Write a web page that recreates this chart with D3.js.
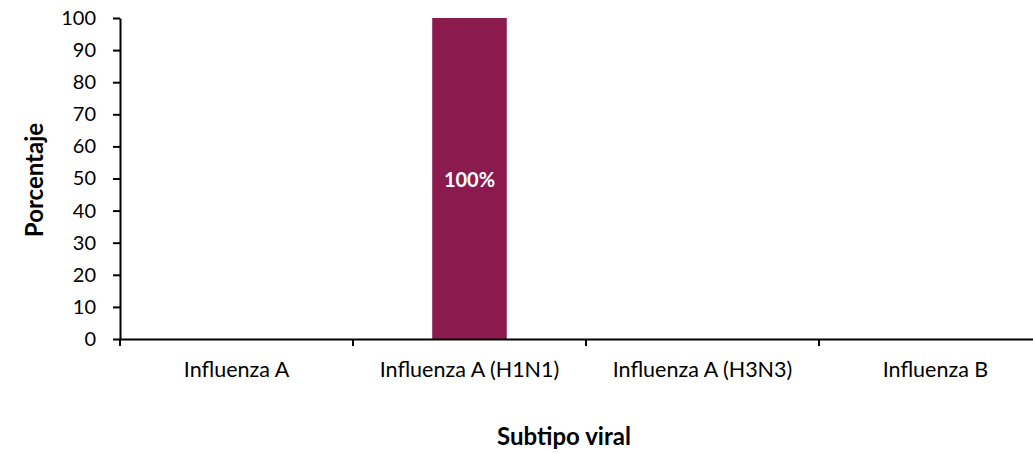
<!DOCTYPE html>
<html>
<head>
<meta charset="utf-8">
<script src="https://cdn.jsdelivr.net/npm/d3@7"></script>
<style>
  body { margin: 0; background: #fff; }
  svg { font-family: Lato, "Open Sans", sans-serif; }
</style>
</head>
<body>
<div id="chart"></div>
<script>
// data
const categories = ["Influenza A", "Influenza A (H1N1)", "Influenza A (H3N3)", "Influenza B"];
const values = [0, 100, 0, 0];
const yTicks = [0, 10, 20, 30, 40, 50, 60, 70, 80, 90, 100];

const width = 1033, height = 453;
const plotLeft = 120, plotTop = 18, zeroY = 339;
const plotRight = 1052; // axis runs past the picture edge

const svg = d3.select("#chart").append("svg")
  .attr("width", width)
  .attr("height", height);

// band for the category slots, and a narrower one for the bars
const xBand = d3.scaleBand()
  .domain(categories)
  .range([plotLeft, plotRight]);

const x = d3.scaleBand()
  .domain(categories)
  .range([plotLeft, plotRight])
  .paddingInner(0.68)
  .paddingOuter(0.34);

const y = d3.scaleLinear()
  .domain([0, 100])
  .range([zeroY, plotTop]);

const rows = categories.map((c, i) => ({ cat: c, val: values[i] }));

// bars
svg.selectAll("rect.bar")
  .data(rows)
  .join("rect")
  .attr("class", "bar")
  .attr("x", d => x(d.cat))
  .attr("width", x.bandwidth())
  .attr("y", d => y(d.val))
  .attr("height", d => y(0) - y(d.val))
  .attr("fill", "#8b1a4f");

// value labels (only on non-empty bars)
svg.selectAll("text.val")
  .data(rows.filter(d => d.val > 0))
  .join("text")
  .attr("class", "val")
  .attr("x", d => x(d.cat) + x.bandwidth() / 2)
  .attr("y", d => y(d.val / 2) + 8)
  .attr("text-anchor", "middle")
  .attr("font-weight", "bold")
  .attr("font-size", 20)
  .attr("fill", "#ffffff")
  .text(d => d.val + "%");

// y axis
const yAxis = svg.append("g")
  .attr("transform", `translate(${plotLeft},0)`)
  .call(d3.axisLeft(y).tickValues(yTicks).tickSize(7).tickSizeOuter(0));
yAxis.attr("font-family", null).attr("font-size", null);
yAxis.select(".domain").attr("stroke", "#000").attr("stroke-width", 2);
yAxis.selectAll(".tick line").attr("stroke", "#000").attr("stroke-width", 2);
yAxis.selectAll(".tick text")
  .attr("x", -24)
  .attr("font-size", 20)
  .attr("fill", "#000");

// x axis
const xAxis = svg.append("g")
  .attr("transform", `translate(0,${y(0)})`)
  .call(d3.axisBottom(xBand).tickSize(0).tickSizeOuter(0));
xAxis.attr("font-family", null).attr("font-size", null);
xAxis.select(".domain").attr("stroke", "#000").attr("stroke-width", 2);
xAxis.selectAll(".tick text")
  .attr("dy", 0)
  .attr("y", 38)
  .attr("font-size", 21.5)
  .attr("fill", "#000");

// category boundary ticks
const bounds = categories.map(c => xBand(c)).concat([plotRight]);
svg.selectAll("line.bound")
  .data(bounds)
  .join("line")
  .attr("class", "bound")
  .attr("x1", d => d).attr("x2", d => d)
  .attr("y1", y(0)).attr("y2", y(0) + 7)
  .attr("stroke", "#000").attr("stroke-width", 2);

// axis titles
svg.append("text")
  .attr("x", 564)
  .attr("y", 445)
  .attr("text-anchor", "middle")
  .attr("font-weight", "bold")
  .attr("font-size", 24)
  .attr("fill", "#000")
  .text("Subtipo viral");

svg.append("text")
  .attr("transform", `translate(43,180) rotate(-90)`)
  .attr("text-anchor", "middle")
  .attr("font-weight", "bold")
  .attr("font-size", 24)
  .attr("fill", "#000")
  .text("Porcentaje");
</script>
</body>
</html>
